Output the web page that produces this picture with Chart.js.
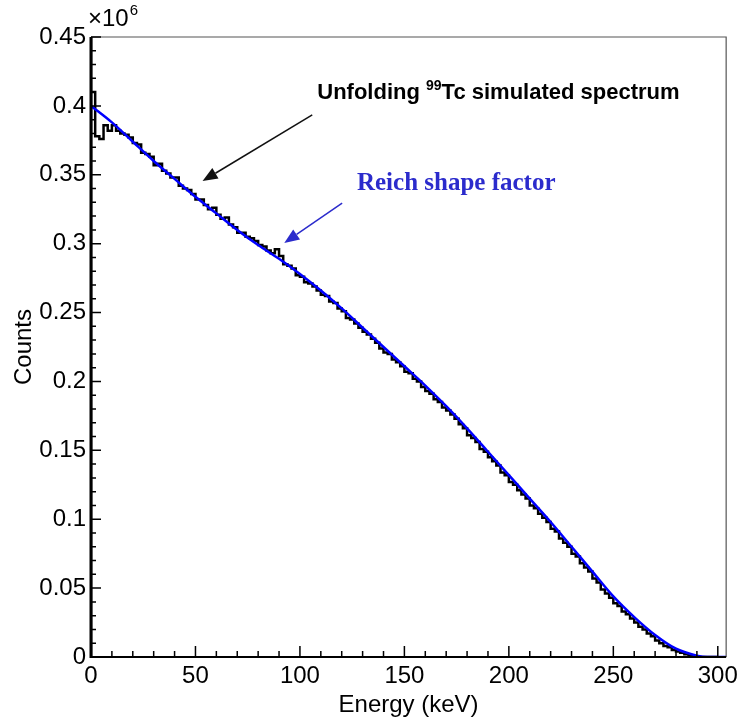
<!DOCTYPE html>
<html>
<head>
<meta charset="utf-8">
<title>99Tc unfolded spectrum</title>
<script src="https://cdn.jsdelivr.net/npm/chart.js@4.4.0/dist/chart.umd.min.js"></script>
<style>
  html, body { margin: 0; padding: 0; background: #fff; }
  #wrap { width: 743px; height: 725px; }
</style>
</head>
<body>
<div id="wrap"><canvas id="chart" width="743" height="725"></canvas></div>
<script>
// ---------- Data ----------
// simulated spectrum, 2 keV bins starting at 0 keV
const binWidth = 2;
const counts = [
  0.470, 0.410, 0.378, 0.376, 0.386, 0.382, 0.386, 0.382, 0.380, 0.379,
  0.377, 0.373, 0.372, 0.366, 0.365, 0.363, 0.357, 0.358, 0.353, 0.351,
  0.348, 0.348, 0.342, 0.340, 0.339, 0.336, 0.332, 0.332, 0.328, 0.325,
  0.326, 0.321, 0.318, 0.319, 0.314, 0.312, 0.308, 0.308, 0.305, 0.304,
  0.302, 0.299, 0.298, 0.295, 0.293, 0.296, 0.291, 0.285, 0.284, 0.282,
  0.277, 0.276, 0.272, 0.271, 0.269, 0.266, 0.263, 0.262, 0.258, 0.257,
  0.253, 0.251, 0.246, 0.245, 0.242, 0.239, 0.236, 0.234, 0.231, 0.228,
  0.224, 0.221, 0.220, 0.216, 0.214, 0.211, 0.207, 0.206, 0.202, 0.200,
  0.196, 0.193, 0.191, 0.187, 0.185, 0.181, 0.179, 0.176, 0.173, 0.169,
  0.166, 0.161, 0.159, 0.156, 0.151, 0.149, 0.145, 0.142, 0.139, 0.134,
  0.132, 0.127, 0.125, 0.121, 0.118, 0.115, 0.110, 0.108, 0.104, 0.101,
  0.098, 0.093, 0.091, 0.086, 0.083, 0.080, 0.075, 0.073, 0.068, 0.065,
  0.062, 0.057, 0.054, 0.049, 0.046, 0.043, 0.039, 0.037, 0.033, 0.031,
  0.028, 0.025, 0.022, 0.020, 0.017, 0.015, 0.012, 0.010, 0.008, 0.007,
  0.005, 0.004, 0.003, 0.002, 0.001, 0.0005, 0, 0, 0, 0
];

// Reich shape factor curve
const reichEnergy = [0, 10, 20, 30, 40, 50, 60, 70, 80, 90, 100, 110, 120, 130, 140, 150,
  160, 170, 180, 190, 200, 210, 220, 230, 240, 250, 260, 270, 280, 290, 295, 300, 304];
const reichCounts = [0.400, 0.388, 0.374, 0.360, 0.347, 0.334, 0.322, 0.310, 0.299, 0.289,
  0.278, 0.266, 0.253, 0.239, 0.225, 0.211, 0.197, 0.182, 0.166, 0.149, 0.132, 0.115,
  0.098, 0.080, 0.062, 0.044, 0.029, 0.016, 0.006, 0.001, 0, 0, 0];

// axis
const xMin = 0, xMax = 304;
const yMin = 0, yMax = 0.45;
const xMajor = 50, xMinor = 10;
const yMajor = 0.05, yMinor = 0.01;

// annotations (data coords)
const specLabel = { x: 108.3, y: 0.405, text: 'Unfolding ', sup: '99', rest: 'Tc simulated spectrum' };
const specArrow = { from: [105.9, 0.3934], to: [53.4, 0.3455] };
const reichLabel = { x: 127.3, y: 0.339, text: 'Reich shape factor' };
const reichArrow = { from: [120.2, 0.3295], to: [92.5, 0.3005] };

const SANS = '"Liberation Sans", Arial, sans-serif';
const SERIF = '"Liberation Serif", "Times New Roman", serif';
const REICH_BLUE = '#2b2bcc';

// ---------- Build points ----------
const histPoints = [{ x: 0, y: 0 }];
counts.forEach((v, i) => histPoints.push({ x: i * binWidth, y: v }));
histPoints.push({ x: counts.length * binWidth, y: counts[counts.length - 1] });

const reichPoints = reichEnergy.map((e, i) => ({ x: e, y: reichCounts[i] }));

// ---------- Helpers ----------
function arrow(ctx, x1, y1, x2, y2, color) {
  const ang = Math.atan2(y2 - y1, x2 - x1);
  const len = 15, half = 6;
  const bx = x2 - len * Math.cos(ang), by = y2 - len * Math.sin(ang);
  ctx.strokeStyle = color;
  ctx.fillStyle = color;
  ctx.lineWidth = 1.5;
  ctx.beginPath();
  ctx.moveTo(x1, y1);
  ctx.lineTo(bx, by);
  ctx.stroke();
  ctx.beginPath();
  ctx.moveTo(x2, y2);
  ctx.lineTo(bx + half * Math.sin(ang), by - half * Math.cos(ang));
  ctx.lineTo(bx - half * Math.sin(ang), by + half * Math.cos(ang));
  ctx.closePath();
  ctx.fill();
}

// frame, inward ticks, exponent and annotations
const decorPlugin = {
  id: 'decor',
  afterDatasetsDraw(chart) {
    const { ctx, chartArea: a, scales: { x, y } } = chart;
    ctx.save();

    // frame
    ctx.strokeStyle = '#555';
    ctx.lineWidth = 1.2;
    ctx.beginPath();
    ctx.moveTo(a.left, a.top); ctx.lineTo(a.right, a.top); ctx.lineTo(a.right, a.bottom);
    ctx.stroke();
    ctx.strokeStyle = '#000';
    ctx.lineWidth = 2;
    ctx.beginPath();
    ctx.moveTo(a.left, a.bottom); ctx.lineTo(a.right, a.bottom);
    ctx.stroke();
    ctx.lineWidth = 3;
    ctx.beginPath();
    ctx.moveTo(a.left, a.top); ctx.lineTo(a.left, a.bottom + 1);
    ctx.stroke();

    // inward ticks
    ctx.lineWidth = 1.5;
    ctx.beginPath();
    const nx = Math.round((300 - xMin) / xMinor);
    for (let i = 0; i <= nx; i++) {
      const px = x.getPixelForValue(xMin + i * xMinor);
      const len = i % Math.round(xMajor / xMinor) === 0 ? 11 : 6;
      ctx.moveTo(px, a.bottom); ctx.lineTo(px, a.bottom - len);
    }
    const ny = Math.round((yMax - yMin) / yMinor);
    for (let i = 0; i <= ny; i++) {
      const py = y.getPixelForValue(yMin + i * yMinor);
      const len = i % Math.round(yMajor / yMinor) === 0 ? 10 : 5;
      ctx.moveTo(a.left, py); ctx.lineTo(a.left + len, py);
    }
    ctx.stroke();

    // x10^6 exponent
    ctx.fillStyle = '#000';
    ctx.textBaseline = 'alphabetic';
    ctx.font = '24px ' + SANS;
    ctx.fillText('\u00d710', a.left - 3, a.top - 11);
    const w = ctx.measureText('\u00d710').width;
    ctx.font = '15px ' + SANS;
    ctx.fillText('6', a.left - 3 + w + 1, a.top - 22);

    // spectrum label + arrow
    let lx = x.getPixelForValue(specLabel.x), ly = y.getPixelForValue(specLabel.y);
    ctx.font = 'bold 22px ' + SANS;
    ctx.fillText(specLabel.text, lx, ly);
    lx += ctx.measureText(specLabel.text).width;
    ctx.font = 'bold 14px ' + SANS;
    ctx.fillText(specLabel.sup, lx, ly - 9);
    lx += ctx.measureText(specLabel.sup).width;
    ctx.font = 'bold 22px ' + SANS;
    ctx.fillText(specLabel.rest, lx, ly);
    arrow(ctx,
      x.getPixelForValue(specArrow.from[0]), y.getPixelForValue(specArrow.from[1]),
      x.getPixelForValue(specArrow.to[0]), y.getPixelForValue(specArrow.to[1]), '#111');

    // Reich label + arrow
    ctx.fillStyle = REICH_BLUE;
    ctx.font = 'bold 25px ' + SERIF;
    ctx.fillText(reichLabel.text, x.getPixelForValue(reichLabel.x), y.getPixelForValue(reichLabel.y));
    arrow(ctx,
      x.getPixelForValue(reichArrow.from[0]), y.getPixelForValue(reichArrow.from[1]),
      x.getPixelForValue(reichArrow.to[0]), y.getPixelForValue(reichArrow.to[1]), REICH_BLUE);

    ctx.restore();
  }
};

// ---------- Chart ----------
new Chart(document.getElementById('chart'), {
  type: 'line',
  data: {
    datasets: [
      {
        label: 'Reich shape factor',
        data: reichPoints,
        borderColor: '#0000ff',
        borderWidth: 2.5,
        pointRadius: 0,
        cubicInterpolationMode: 'monotone',
        fill: false
      },
      {
        label: 'Unfolding 99Tc simulated spectrum',
        data: histPoints,
        borderColor: '#000',
        borderWidth: 2.5,
        pointRadius: 0,
        stepped: 'after',
        fill: false,
        clip: 0
      }
    ]
  },
  options: {
    responsive: false,
    animation: false,
    devicePixelRatio: 1,
    layout: { padding: { left: 0, right: 14, top: 37, bottom: 0 } },
    plugins: { legend: { display: false }, tooltip: { enabled: false } },
    scales: {
      x: {
        type: 'linear',
        min: xMin,
        max: xMax,
        grid: { display: false, drawTicks: false },
        border: { display: false },
        ticks: {
          stepSize: xMajor,
          includeBounds: false,
          autoSkip: false,
          maxRotation: 0,
          padding: 5,
          color: '#000',
          font: { family: SANS, size: 24 },
          callback: v => String(v)
        },
        title: {
          display: true,
          text: 'Energy (keV)',
          color: '#000',
          font: { family: SANS, size: 24 },
          padding: { top: 0, bottom: 5 }
        },
        afterFit: s => { s.height = 68; }
      },
      y: {
        type: 'linear',
        min: yMin,
        max: yMax,
        grid: { display: false, drawTicks: false },
        border: { display: false },
        ticks: {
          stepSize: yMajor,
          autoSkip: false,
          padding: 5,
          color: '#000',
          font: { family: SANS, size: 24 },
          callback: v => String(Number(v.toFixed(2)))
        },
        title: {
          display: true,
          text: 'Counts',
          color: '#000',
          font: { family: SANS, size: 24 },
          padding: { top: 10, bottom: 0 }
        },
        afterFit: s => { s.width = 91; }
      }
    }
  },
  plugins: [decorPlugin]
});
</script>
</body>
</html>
